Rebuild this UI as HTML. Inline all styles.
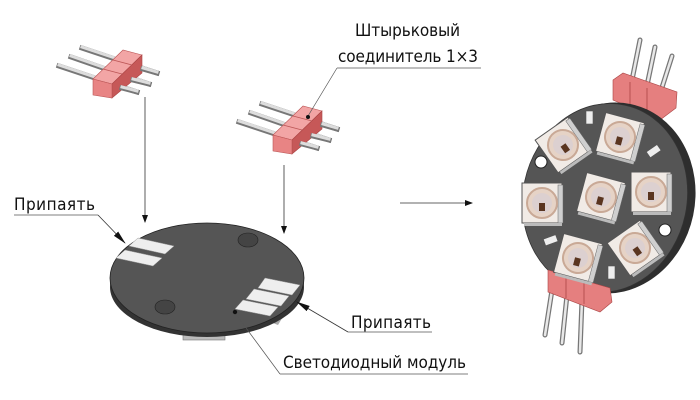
<!DOCTYPE html>
<html><head><meta charset="utf-8"><style>
html,body{margin:0;padding:0;background:#fff;}
svg{display:block;}
text{font-family:"DejaVu Sans Condensed","Liberation Sans Narrow","Liberation Sans",sans-serif;font-size:17px;fill:#111;}
</style></head><body>
<svg width="700" height="400" viewBox="0 0 700 400" xmlns="http://www.w3.org/2000/svg">
<defs>
<marker id="ah" markerWidth="8" markerHeight="8" refX="7" refY="3" orient="auto" markerUnits="userSpaceOnUse"><path d="M0,0 L8,3 L0,6 Z" fill="#111"/></marker>
<marker id="ah2" markerWidth="14" markerHeight="8" refX="13" refY="3" orient="auto" markerUnits="userSpaceOnUse"><path d="M0,0 L14,3 L0,6 Z" fill="#111"/></marker>
<g id="pins">
  <g stroke="#777" stroke-width="5" stroke-linecap="square"><line x1="82" y1="48" x2="157" y2="73"/><line x1="71" y1="57" x2="149" y2="84"/><line x1="59" y1="66" x2="137" y2="92"/></g>
  <g stroke="#ddd" stroke-width="3" stroke-linecap="square"><line x1="82" y1="47" x2="157" y2="72"/><line x1="71" y1="56" x2="149" y2="83"/><line x1="59" y1="65" x2="137" y2="91"/></g>
</g>
<g id="conn">
  <use href="#pins"/>
  <polygon points="93,79 123,50 142,55 112,84" fill="#f2a5a5" stroke="#b55" stroke-width="0.6"/>
  <polygon points="112,84 142,55 142,73 112,98" fill="#c65858" stroke="#a44" stroke-width="0.6"/>
  <polygon points="93,79 112,84 112,98 93,95" fill="#e88484" stroke="#b55" stroke-width="0.6"/>
  <g stroke="#b55" stroke-width="0.8"><line x1="103" y1="69" x2="122" y2="74"/><line x1="113" y1="60" x2="132" y2="65"/></g>
  <g stroke="#777" stroke-width="5" stroke-linecap="square"><line x1="122" y1="88" x2="137" y2="92"/><line x1="133" y1="80" x2="149" y2="84"/><line x1="143" y1="69" x2="157" y2="73"/></g>
  <g stroke="#ddd" stroke-width="3" stroke-linecap="square"><line x1="122" y1="87" x2="137" y2="91"/><line x1="133" y1="79" x2="149" y2="83"/><line x1="143" y1="68" x2="157" y2="72"/></g>
</g>
<g id="led">
  <rect x="-20" y="-20" width="40" height="40" fill="#f1ebe6" stroke="#555" stroke-width="1"/>
  <rect x="16" y="-18" width="5" height="38" fill="#cfcfcf" stroke="#666" stroke-width="0.5"/>
  <rect x="-18" y="20" width="38" height="3" fill="#bbb"/>
  <circle r="15" fill="#e6d3c6" stroke="#c9a996" stroke-width="2"/>
  <circle r="10" fill="#dcd0d0"/>
  <rect x="-3" y="0" width="6" height="8" fill="#5a3520"/>
</g>
</defs>

<use href="#conn"/>
<use href="#conn" transform="translate(180,56)"/>

<!-- arrows -->
<line x1="145" y1="97" x2="145" y2="222" stroke="#333" stroke-width="0.8" marker-end="url(#ah)"/>
<line x1="284" y1="165" x2="284" y2="233" stroke="#333" stroke-width="0.8" marker-end="url(#ah)"/>
<line x1="400" y1="203" x2="472" y2="203" stroke="#333" stroke-width="0.8" marker-end="url(#ah)"/>

<!-- left disc -->
<polygon points="130,300 138,322 150,325 142,303" fill="#aaa"/>
<rect x="183" y="328" width="42" height="12" fill="#bbb" stroke="#777" stroke-width="0.6"/>
<polygon points="265,320 278,325 290,305 280,303" fill="#aaa"/>
<ellipse cx="207" cy="287" rx="97" ry="50" fill="#333"/>
<ellipse cx="207" cy="278" rx="97" ry="55" fill="#555" stroke="#222" stroke-width="0.8"/>
<g fill="#eee" stroke="#999" stroke-width="0.5">
  <polygon points="138,238 174,246 165,254 129,246"/>
  <polygon points="125,250 162,258 153,266 116,258"/>
  <polygon points="265,278 300,285 292,295 258,288"/>
  <polygon points="254,289 289,296 281,306 246,299"/>
  <polygon points="243,300 278,307 270,316 235,309"/>
</g>
<ellipse cx="248" cy="240" rx="10" ry="7" fill="#444" stroke="#222" stroke-width="0.6"/>
<ellipse cx="165" cy="307" rx="10" ry="7" fill="#444" stroke="#222" stroke-width="0.6"/>

<!-- labels -->
<text x="355" y="36" textLength="105">Штырьковый</text>
<text x="338" y="62" textLength="140">соединитель 1×3</text>
<line x1="337" y1="68" x2="481" y2="68" stroke="#555" stroke-width="0.7"/>
<line x1="337" y1="68" x2="308" y2="116" stroke="#555" stroke-width="0.7"/>
<circle cx="308" cy="117" r="2" fill="#111"/>

<text x="14" y="210" textLength="81">Припаять</text>
<line x1="14" y1="215" x2="98" y2="215" stroke="#555" stroke-width="0.7"/>
<line x1="98" y1="215" x2="125" y2="243" stroke="#333" stroke-width="0.8" marker-end="url(#ah2)"/>

<text x="351" y="328" textLength="80">Припаять</text>
<line x1="348" y1="332" x2="432" y2="332" stroke="#555" stroke-width="0.7"/>
<line x1="348" y1="332" x2="297" y2="302" stroke="#333" stroke-width="0.8" marker-end="url(#ah2)"/>

<text x="283" y="368" textLength="183">Светодиодный модуль</text>
<line x1="280" y1="374" x2="468" y2="374" stroke="#555" stroke-width="0.7"/>
<line x1="280" y1="374" x2="235" y2="313" stroke="#555" stroke-width="0.7"/>
<circle cx="235" cy="312" r="2.2" fill="#111"/>

<!-- right module -->
<g stroke="#777" stroke-width="5" stroke-linecap="round"><line x1="630" y1="90" x2="640" y2="40"/><line x1="645" y1="95" x2="655" y2="47"/><line x1="658" y1="100" x2="672" y2="56"/>
<line x1="552" y1="290" x2="545" y2="335"/><line x1="567" y1="295" x2="562" y2="343"/><line x1="582" y1="300" x2="580" y2="352"/></g>
<g stroke="#e8e8e8" stroke-width="2.5" stroke-linecap="round"><line x1="630" y1="90" x2="640" y2="40"/><line x1="645" y1="95" x2="655" y2="47"/><line x1="658" y1="100" x2="672" y2="56"/>
<line x1="552" y1="290" x2="545" y2="335"/><line x1="567" y1="295" x2="562" y2="343"/><line x1="582" y1="300" x2="580" y2="352"/></g>
<polygon points="613,80 623,73 677,92 676,108 660,120 613,100" fill="#e57f7f" stroke="#a44" stroke-width="0.6"/>
<g stroke="#a44" stroke-width="0.8"><line x1="630" y1="82" x2="630" y2="106"/><line x1="647" y1="88" x2="647" y2="112"/></g>
<ellipse cx="611" cy="198" rx="84" ry="96" transform="rotate(12 611 198)" fill="#2e2e2e"/>
<ellipse cx="605" cy="198" rx="82" ry="95" transform="rotate(12 605 198)" fill="#555" stroke="#333" stroke-width="0.8"/>
<polygon points="548,270 610,288 612,302 600,312 548,292" fill="#e57f7f" stroke="#a44" stroke-width="0.6"/>
<g stroke="#a44" stroke-width="0.8"><line x1="566" y1="276" x2="566" y2="298"/><line x1="584" y1="281" x2="584" y2="304"/></g>
<circle cx="541" cy="162" r="6" fill="#fff" stroke="#222"/>
<circle cx="665" cy="230" r="6" fill="#fff" stroke="#222"/>
<use href="#led" transform="translate(563,145) rotate(-35)"/>
<use href="#led" transform="translate(620,137) rotate(15)"/>
<use href="#led" transform="translate(651,192)"/>
<use href="#led" transform="translate(601,197) rotate(15)"/>
<use href="#led" transform="translate(542,203)"/>
<use href="#led" transform="translate(635,248) rotate(-35)"/>
<use href="#led" transform="translate(578,258) rotate(15)"/>
<g fill="#eee" stroke="#555" stroke-width="0.6">
<rect x="586" y="111" width="7" height="13"/><rect x="647" y="148" width="13" height="7" transform="rotate(-35 653 151)"/>
<rect x="544" y="237" width="13" height="7" transform="rotate(-20 550 240)"/><rect x="608" y="266" width="7" height="13"/>
</g>
</svg>
</body></html>
